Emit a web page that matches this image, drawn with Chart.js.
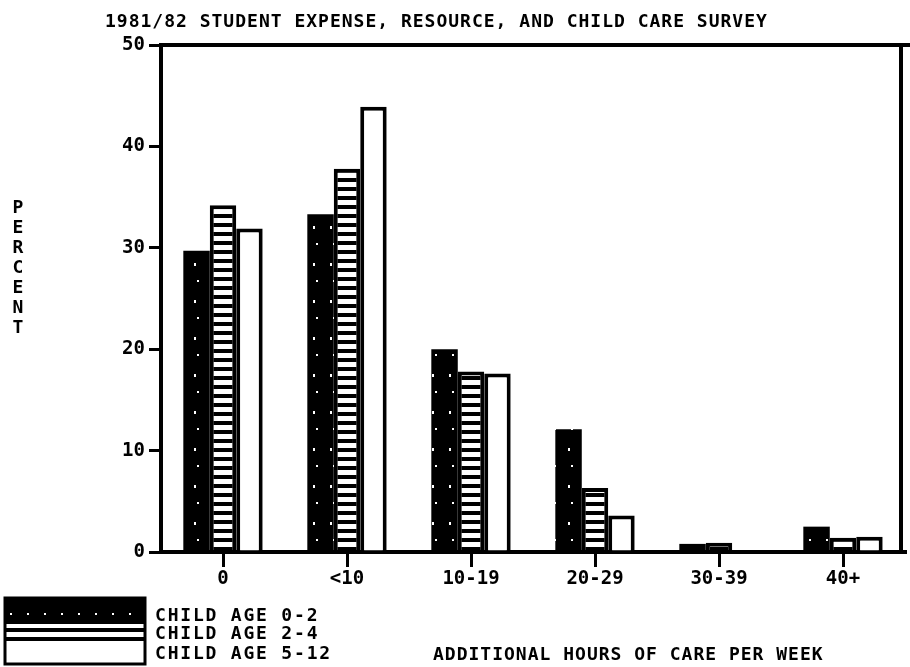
<!DOCTYPE html>
<html>
<head>
<meta charset="utf-8">
<script src="https://cdn.jsdelivr.net/npm/chart.js@4.4.0/dist/chart.umd.min.js"></script>
<style>
  html, body { margin: 0; padding: 0; background: #fff; }
  #surveyChart { display: block; }
</style>
</head>
<body>
<canvas id="surveyChart" width="910" height="667"></canvas>
<script>
const titleText = '1981/82 STUDENT EXPENSE, RESOURCE, AND CHILD CARE SURVEY';
const xAxisTitle = 'ADDITIONAL HOURS OF CARE PER WEEK';
const yAxisTitle = 'PERCENT';
const hourLabels = ['0', '<10', '10-19', '20-29', '30-39', '40+'];
const seriesNames = ['CHILD AGE 0-2', 'CHILD AGE 2-4', 'CHILD AGE 5-12'];
const age0to2 = [29.7, 33.3, 20.0, 12.1, 0.8, 2.5];
const age2to4 = [34.2, 37.8, 17.8, 6.3, 0.9, 1.4];
const age5to12 = [31.9, 43.9, 17.6, 3.6, 0, 1.5];

const fontFamily = '"DejaVu Sans Mono", "Liberation Mono", monospace';

// black fill with a few white specks, like the scanned solid bars
function makeSpeckle() {
    const c = document.createElement('canvas');
    c.width = 17;
    c.height = 37;
    const g = c.getContext('2d');
    g.fillStyle = '#000';
    g.fillRect(0, 0, 17, 37);
    g.fillStyle = '#fff';
    g.fillRect(7, 4, 2, 3);
    g.fillRect(10, 21, 2, 2);
    return g.createPattern(c, 'repeat');
}

// horizontal white bands on black
function makeStripes() {
    const c = document.createElement('canvas');
    c.width = 4;
    c.height = 9;
    const g = c.getContext('2d');
    g.fillStyle = '#000';
    g.fillRect(0, 0, 4, 9);
    g.fillStyle = '#fff';
    g.fillRect(0, 2, 4, 5);
    return g.createPattern(c, 'repeat');
}

const speckle = makeSpeckle();
const stripes = makeStripes();
const fills = [speckle, stripes, '#fff'];

const chartDecor = {
    id: 'chartDecor',
    afterDraw(chart) {
        const ctx = chart.ctx;
        const a = chart.chartArea;
        ctx.save();
        ctx.strokeStyle = '#000';
        ctx.lineWidth = 4;
        ctx.beginPath();
        ctx.moveTo(a.left, a.top);
        ctx.lineTo(chart.width, a.top);
        ctx.moveTo(a.right - 4, a.top);
        ctx.lineTo(a.right - 4, a.bottom);
        ctx.stroke();

        ctx.fillStyle = '#000';
        ctx.textBaseline = 'middle';
        ctx.font = 'bold 18px ' + fontFamily;
        ctx.letterSpacing = '1px';
        ctx.textAlign = 'left';
        ctx.fillText(titleText, 105, 22);
        ctx.fillText(xAxisTitle, 433, 655);

        // stacked letters of the y title
        ctx.textAlign = 'center';
        ctx.letterSpacing = '0px';
        yAxisTitle.split('').forEach((ch, i) => {
            ctx.fillText(ch, 18, 208 + i * 20);
        });

        // legend box
        const boxX = 5, boxW = 140;
        const rows = [[598, 26], [624, 18], [642, 22]];
        rows.forEach((r, i) => {
            ctx.fillStyle = fills[i];
            ctx.fillRect(boxX, r[0], boxW, r[1]);
        });
        ctx.lineWidth = 3;
        ctx.strokeRect(boxX, 598, boxW, 66);

        ctx.fillStyle = '#000';
        ctx.textAlign = 'left';
        ctx.letterSpacing = '1.8px';
        const labelY = [616, 634, 654];
        seriesNames.forEach((name, i) => {
            ctx.fillText(name, 155, labelY[i]);
        });
        ctx.restore();
    }
};

function buildDataset(label, values, fill, border) {
    return {
        label: label,
        data: values,
        backgroundColor: fill,
        borderColor: '#000',
        borderWidth: border,
        categoryPercentage: 0.64,
        barPercentage: 1.0
    };
}

new Chart(document.getElementById('surveyChart').getContext('2d'), {
    type: 'bar',
    data: {
        labels: hourLabels,
        datasets: [
            buildDataset(seriesNames[0], age0to2, speckle, 0),
            buildDataset(seriesNames[1], age2to4, stripes, 4),
            buildDataset(seriesNames[2], age5to12, '#fff', 4)
        ]
    },
    options: {
        responsive: false,
        animation: false,
        devicePixelRatio: 1,
        layout: {
            padding: { top: 45, right: 5, left: 0, bottom: 0 }
        },
        plugins: {
            legend: { display: false },
            title: { display: false },
            tooltip: { enabled: false }
        },
        scales: {
            x: {
                afterFit: (scale) => { scale.height = 115; },
                border: { display: true, color: '#000', width: 4 },
                grid: {
                    drawOnChartArea: false,
                    offset: false,
                    tickLength: 15,
                    color: '#000',
                    lineWidth: 3
                },
                ticks: {
                    color: '#000',
                    padding: 1,
                    maxRotation: 0,
                    font: { family: fontFamily, size: 19, weight: 'bold' }
                }
            },
            y: {
                min: 0,
                max: 50,
                afterFit: (scale) => { scale.width = 161; },
                border: { display: true, color: '#000', width: 4 },
                grid: {
                    drawOnChartArea: false,
                    tickLength: 12,
                    color: '#000',
                    lineWidth: 3
                },
                ticks: {
                    stepSize: 10,
                    color: '#000',
                    padding: 4,
                    font: { family: fontFamily, size: 19, weight: 'bold' }
                }
            }
        }
    },
    plugins: [chartDecor]
});
</script>
</body>
</html>
